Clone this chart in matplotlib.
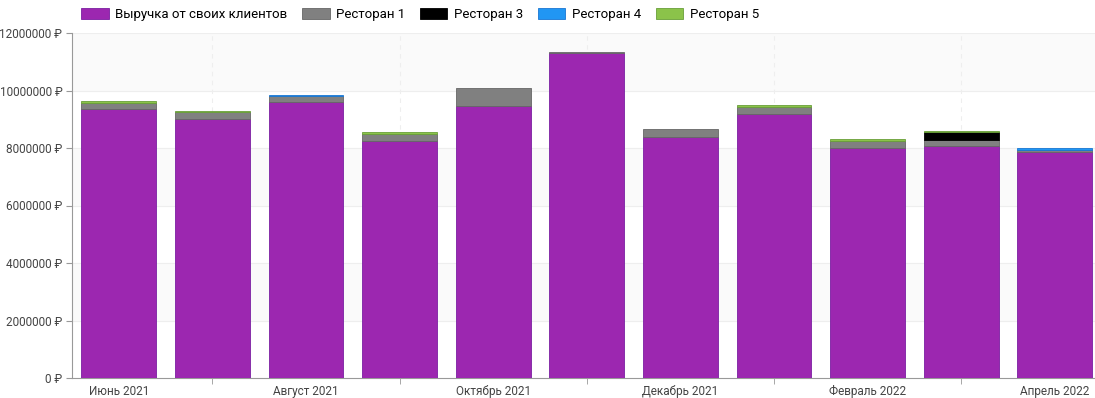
import numpy as np
import matplotlib
matplotlib.use("Agg")
from matplotlib import pyplot as plt

plt.rcParams['font.family'] = ['Roboto', 'DejaVu Sans']

months = ["Июнь 2021", "Июль 2021", "Август 2021", "Сентябрь 2021", "Октябрь 2021",
          "Ноябрь 2021", "Декабрь 2021", "Январь 2022", "Февраль 2022", "Март 2022",
          "Апрель 2022"]

own_clients = [9360000, 9000000, 9600000, 8240000, 9460000, 11300000, 8380000, 9180000, 8000000, 8070000, 7860000]
rest1 = [210000, 260000, 210000, 240000, 620000, 40000, 280000, 230000, 250000, 210000, 70000]
rest3 = [0, 0, 0, 0, 0, 0, 0, 0, 0, 260000, 0]
rest4 = [0, 0, 40000, 0, 0, 0, 0, 0, 0, 0, 70000]
rest5 = [60000, 30000, 0, 70000, 0, 0, 0, 70000, 70000, 40000, 0]

series = [
    ("Выручка от своих клиентов", own_clients, "#9c27b0", "#7b1fa2"),
    ("Ресторан 1", rest1, "#808080", "#666666"),
    ("Ресторан 3", rest3, "#000000", "#000000"),
    ("Ресторан 4", rest4, "#2196f3", "#1976d2"),
    ("Ресторан 5", rest5, "#8bc34a", "#689f38"),
]

fig = plt.figure(figsize=(10.95, 3.98), dpi=100)
ax = fig.add_axes([72/1095, 20/398, 1 - 72/1095, 345/398])

x = np.arange(len(months))
bottom = np.zeros(len(months))
for name, vals, color, edge in series:
    vals = np.array(vals, dtype=float)
    m = vals > 0
    ax.bar(x[m], vals[m], 0.8, bottom=bottom[m], color=color, edgecolor=edge,
           linewidth=0.6, label=name, zorder=3)
    bottom += vals

# alternating bands + grid
for lo in [2e6, 6e6, 10e6]:
    ax.axhspan(lo, lo + 2e6, color="#fafafa", zorder=0)
ax.set_ylim(0, 12e6)
ax.set_xlim(-0.5, len(months) - 0.57)
yt = np.arange(0, 12e6 + 1, 2e6)
ax.set_yticks(yt)
ax.set_yticklabels([f"{int(v)} ₽" for v in yt])
for v in yt[1:]:
    ax.axhline(v, color="#eeeeee", lw=0.8, zorder=1)

ax.set_xticks(x[::2])
ax.set_xticklabels(months[::2])
ax.set_xticks(x[1::2], minor=True)
for v in x[1::2]:
    ax.axvline(v, color="#eeeeee", lw=0.8, ls=(0, (4, 4)), zorder=1)

ax.tick_params(axis="x", which="major", length=0, pad=5, labelsize=8.5, labelcolor="#444444")
ax.tick_params(axis="x", which="minor", length=4, color="#999999")
ax.tick_params(axis="y", length=4, color="#999999", labelsize=8.5, labelcolor="#444444", pad=3)

for s in ["top", "right"]:
    ax.spines[s].set_visible(False)
for s in ["left", "bottom"]:
    ax.spines[s].set_color("#999999")
    ax.spines[s].set_linewidth(0.8)

fig.legend(loc="upper left", bbox_to_anchor=(0.063, 1.01), ncol=5, frameon=False,
           fontsize=9.5, handlelength=2.1, handleheight=0.9, handletextpad=0.5,
           columnspacing=1.1)

fig.savefig("out.png", dpi=100)
